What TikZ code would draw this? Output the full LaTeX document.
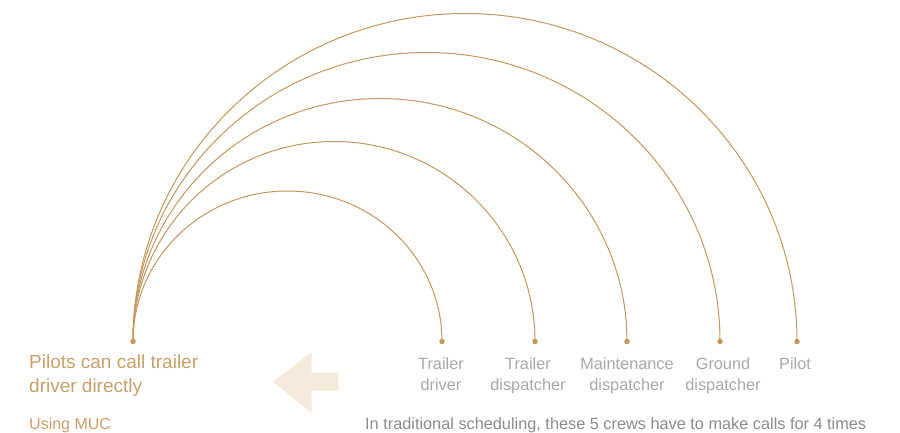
\documentclass[tikz,border=0pt]{standalone}
\usepackage{fontspec}
\setmainfont{Liberation Sans}
\definecolor{arcgold}{RGB}{196,152,92}
\definecolor{textgold}{RGB}{201,160,106}
\definecolor{labelgray}{RGB}{168,168,168}
\definecolor{notegray}{RGB}{140,140,140}
\definecolor{arrowbg}{RGB}{243,234,220}
\tikzset{
  link/.style={draw=arcgold, line width=1pt},
  crew/.style={text=labelgray, align=center, anchor=base, inner sep=0pt,
    font=\fontsize{16.3}{21}\selectfont}
}
\begin{document}
\begin{tikzpicture}[x=1pt,y=1pt]
      \useasboundingbox (0,0) rectangle (900,432);

      \begin{scope}[every node/.style={circle, fill=arcgold, inner sep=0pt, minimum size=5.5pt}]
        \node (0) at (133,90.5) {};
        \node (1) at (442,90.5) {};
        \node (2) at (535,90.5) {};
        \node (3) at (627,90.5) {};
        \node (4) at (720,90.5) {};
        \node (5) at (797,90.5) {};
      \end{scope}

      % one arc per crew, all from the pilot
      \draw[link] (0.center) arc[start angle=180, end angle=0, x radius=154.5, y radius=150.5];
      \draw[link] (0.center) arc[start angle=180, end angle=0, x radius=201, y radius=200];
      \draw[link] (0.center) arc[start angle=180, end angle=0, x radius=247, y radius=243];
      \draw[link] (0.center) arc[start angle=180, end angle=0, x radius=293.5, y radius=289];
      \draw[link] (0.center) arc[start angle=180, end angle=0, x radius=332, y radius=328];

      % base of a two-line node is its last line
      \node[crew] (l1) at (441,42) {Trailer\\driver};
      \node[crew] (l2) at (528,42) {Trailer\\dispatcher};
      \node[crew] (l3) at (627,42) {Maintenance\\dispatcher};
      \node[crew] (l4) at (723,42) {Ground\\dispatcher};
      \node[crew] (l5) at (795,63) {Pilot};

      \node[text=textgold, align=left, anchor=base west, inner sep=0pt,
        font=\fontsize{19}{24}\selectfont] (muc) at (29,40) {Pilots can call trailer\\driver directly};
      \node[text=textgold, anchor=base west, inner sep=0pt,
        font=\fontsize{16}{19}\selectfont] (using) at (29,3) {Using MUC};
      \node[text=notegray, anchor=base west, inner sep=0pt,
        font=\fontsize{16.3}{20}\selectfont] (note) at (365,3)
        {In traditional scheduling, these 5 crews have to make calls for 4 times};

      \fill[arrowbg] (272.7,50.3) -- (311.7,79.7) -- (311.7,59.3) -- (338.3,59.3)
        -- (338.3,41.3) -- (311.7,41.3) -- (311.7,19.3) -- cycle;

    \end{tikzpicture}
\end{document}
